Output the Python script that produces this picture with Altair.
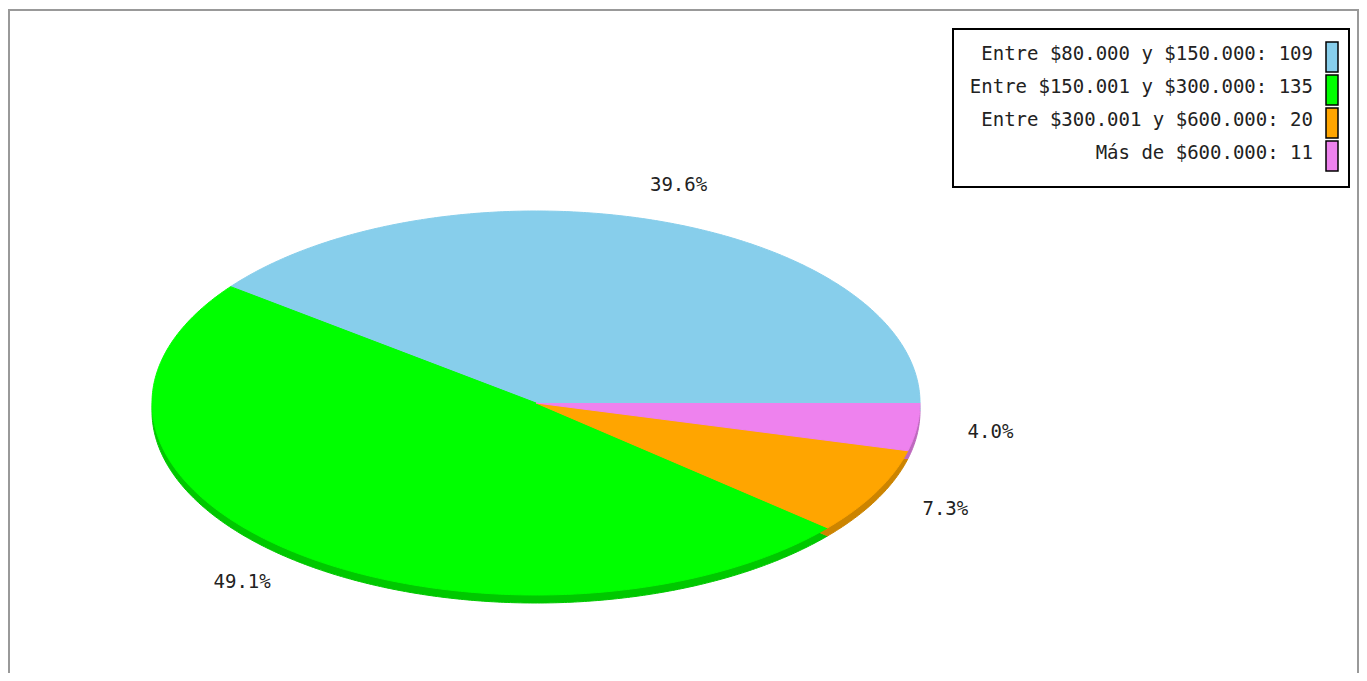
import numpy as np
import pandas as pd
import altair as alt

labels = ["Entre $80.000 y $150.000", "Entre $150.001 y $300.000",
          "Entre $300.001 y $600.000", "Más de $600.000"]
counts = [109, 135, 20, 11]
colors = ["#87CEEB", "#00FF00", "#FFA500", "#EE82EE"]
side_colors = ["#6CA5BC", "#00C800", "#CC8400", "#BE68BE"]

W, H = 1351, 663
OX, OY = 8, 10
CX, CY = 536 - OX, 403 - OY
RX, RY = 384, 192
DEPTH = 8
LRX, LRY = 430, 230
LABEL_SHIFT = 5
FONT = "DejaVu Sans Mono"

total = sum(counts)
rows = []
lab_rows = []
a = 0.0
for k, (lab, c) in enumerate(zip(labels, counts)):
    a0 = a
    a1 = a + c / total * 2 * np.pi
    a = a1
    n = max(3, int(np.degrees(a1 - a0) * 2))
    angs = np.linspace(a0, a1, n)
    pts = [(CX, CY)] + [(CX + RX * np.cos(t), CY - RY * np.sin(t)) for t in angs]
    for layer, dy in (("side", DEPTH), ("top", 0)):
        for j, (x, y) in enumerate(pts):
            rows.append(dict(label=lab, layer=layer, x=x, y=y + dy, ord=j))
    mid = (a0 + a1) / 2
    cs = np.cos(mid)
    al = "left" if cs > 0.5 else ("right" if cs < -0.5 else "center")
    lab_rows.append(dict(label=lab, x=CX + LABEL_SHIFT + LRX * cs, y=CY - LRY * np.sin(mid),
                         text=f"{100 * c / total:.1f}%", align=al))

df = pd.DataFrame(rows)
ldf = pd.DataFrame(lab_rows)
leg = pd.DataFrame(dict(label=labels, text=[f"{l}: {c}" for l, c in zip(labels, counts)],
                        i=list(range(len(labels)))))


def sx(field):
    return alt.X(field, axis=None, scale=alt.Scale(domain=[0, W], nice=False, zero=False))


def sy(field):
    return alt.Y(field, axis=None, scale=alt.Scale(domain=[0, H], nice=False, zero=False, reverse=True))


def slices(layer, rng):
    return alt.Chart(df).transform_filter(alt.datum.layer == layer).mark_line(
        strokeWidth=1, interpolate="linear"
    ).encode(
        x=sx("x:Q"), y=sy("y:Q"),
        detail="label:N",
        order=alt.Order("ord:Q"),
        fill=alt.Fill("label:N", scale=alt.Scale(domain=labels, range=rng), legend=None),
        stroke=alt.Stroke("label:N", scale=alt.Scale(domain=labels, range=rng), legend=None),
    )


side = slices("side", side_colors)
top = slices("top", colors)

pct_layers = []
for al in ("left", "right", "center"):
    pct_layers.append(
        alt.Chart(ldf).transform_filter(alt.datum.align == al).mark_text(
            align=al, baseline="middle", font=FONT, fontSize=19, color="#222222"
        ).encode(x=sx("x:Q"), y=sy("y:Q"), text="text:N")
    )

one = pd.DataFrame({"k": [0]})
box = alt.Chart(one).mark_rect(
    fill="white", stroke="black", strokeWidth=2
).encode(
    x=alt.value(953 - OX), x2=alt.value(1349 - OX),
    y=alt.value(29 - OY), y2=alt.value(187 - OY),
)

leg_text = alt.Chart(leg).transform_calculate(
    ty=f"{54 - OY} + 33 * datum.i", tx=f"{1313 - OX}"
).mark_text(align="right", baseline="middle", font=FONT, fontSize=19, color="#222222").encode(
    x=sx("tx:Q"), y=sy("ty:Q"), text="text:N",
)

leg_sw = alt.Chart(leg).transform_calculate(
    y0=f"{42 - OY} + 33 * datum.i", y1=f"{72 - OY} + 33 * datum.i",
    x0=f"{1326 - OX}", x1=f"{1338 - OX}"
).mark_rect(stroke="black", strokeWidth=1.5).encode(
    x=sx("x0:Q"), x2="x1:Q",
    y=sy("y0:Q"), y2="y1:Q",
    fill=alt.Fill("label:N", scale=alt.Scale(domain=labels, range=colors), legend=None),
)

border_top = alt.Chart(one).mark_rule(color="#999999", strokeWidth=2).encode(
    x=alt.value(0), x2=alt.value(W), y=alt.value(0))
border_left = alt.Chart(one).mark_rule(color="#999999", strokeWidth=2).encode(
    x=alt.value(1), y=alt.value(0), y2=alt.value(H + 10))
border_right = alt.Chart(one).mark_rule(color="#999999", strokeWidth=2).encode(
    x=alt.value(W - 1), y=alt.value(0), y2=alt.value(H + 10))

chart = alt.layer(side, top, *pct_layers, box, leg_text, leg_sw,
                  border_top, border_left, border_right).resolve_scale(
    fill="independent", stroke="independent"
).properties(
    width=W, height=H,
    autosize=alt.AutoSizeParams(type="none"),
    padding={"left": 0, "top": 2, "right": 0, "bottom": 0},
).configure_view(strokeWidth=0, fill="white")

chart.save("out.html", embed_options={"renderer": "svg", "actions": False})
